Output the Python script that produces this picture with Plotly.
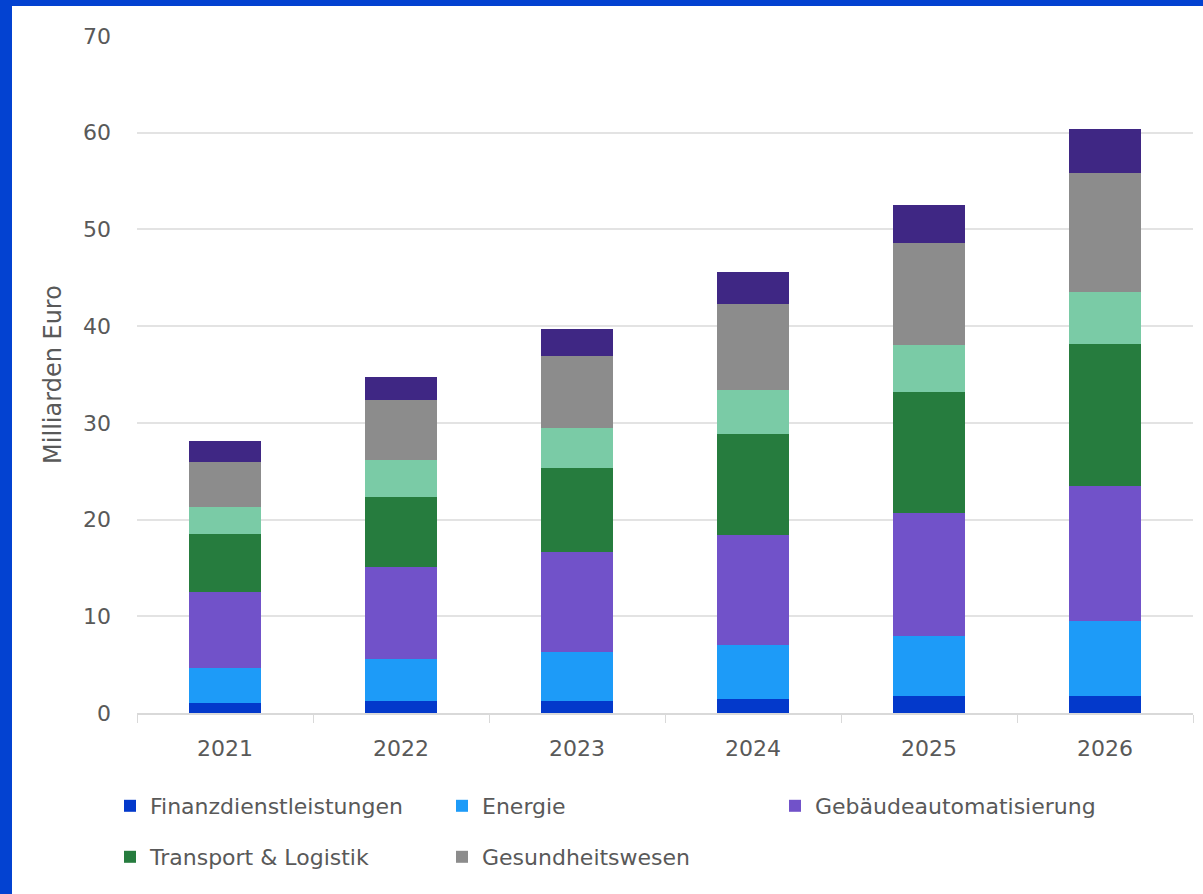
import plotly.graph_objects as go

years = ["2021", "2022", "2023", "2024", "2025", "2026"]

finanz = [1.07, 1.27, 1.24, 1.46, 1.71, 1.72]
energie = [3.55, 4.28, 5.04, 5.62, 6.23, 7.75]
gebaeude = [7.92, 9.52, 10.34, 11.35, 12.77, 14.03]
transport = [5.97, 7.30, 8.74, 10.37, 12.46, 14.65]
sonstige_gruen = [2.76, 3.79, 4.08, 4.55, 4.91, 5.33]
gesundheit = [4.65, 6.20, 7.48, 8.93, 10.50, 12.34]
sonstige_lila = [2.24, 2.38, 2.79, 3.27, 3.98, 4.61]

series = [
    ("Finanzdienstleistungen", finanz, "#0339CB", True, "legend"),
    ("Energie", energie, "#1D9BF8", True, "legend2"),
    ("Gebäudeautomatisierung", gebaeude, "#7152C9", True, "legend3"),
    ("Transport & Logistik", transport, "#267C3E", True, "legend4"),
    ("Smart Home", sonstige_gruen, "#7ACBA6", False, "legend4"),
    ("Gesundheitswesen", gesundheit, "#8C8C8C", True, "legend5"),
    ("Sonstige", sonstige_lila, "#3F2784", False, "legend5"),
]

W, H = 1203, 894
ML, MR, MT, MB = 137, 10, 36, 181
PW, PH = W - ML - MR, H - MT - MB


def px_x(px):
    return (px - ML) / PW


def px_y(py):
    return (H - MB - py) / PH


FONT = "DejaVu Sans"
TXT = "#595959"

fig = go.Figure()
for name, vals, color, show, leg in series:
    fig.add_trace(go.Bar(
        x=years, y=vals, name=name,
        marker=dict(color=color, line=dict(width=0)),
        showlegend=show, legend=leg,
    ))

legend_common = dict(
    orientation="h",
    xanchor="left", yanchor="middle",
    font=dict(family=FONT, size=22, color=TXT),
    bgcolor="rgba(0,0,0,0)",
    traceorder="normal",
    itemclick=False, itemdoubleclick=False,
)

fig.update_layout(
    width=W, height=H,
    margin=dict(l=ML, r=MR, t=MT, b=MB, autoexpand=False),
    paper_bgcolor="white", plot_bgcolor="white",
    barmode="stack", bargap=0.59,
    font=dict(family=FONT, color=TXT),
    legend=dict(legend_common, x=px_x(110), y=px_y(806)),
    legend2=dict(legend_common, x=px_x(442), y=px_y(806)),
    legend3=dict(legend_common, x=px_x(775), y=px_y(806)),
    legend4=dict(legend_common, x=px_x(110), y=px_y(857)),
    legend5=dict(legend_common, x=px_x(442), y=px_y(857)),
    xaxis=dict(
        showgrid=False, showline=True, linecolor="#D9D9D9", linewidth=1.5,
        ticks="outside", tickson="boundaries", ticklen=8, tickcolor="#D9D9D9",
        tickfont=dict(family=FONT, size=22, color=TXT),
        ticklabelstandoff=15,
    ),
    yaxis=dict(
        range=[0, 70], dtick=10, showgrid=True, gridcolor="#E3E3E3", gridwidth=1.5,
        zeroline=False, showline=False, ticks="",
        tickfont=dict(family=FONT, size=22, color=TXT),
        ticklabelstandoff=25,
        title=dict(text="Milliarden Euro", font=dict(family=FONT, size=24, color=TXT), standoff=14),
    ),
    shapes=[
        dict(type="rect", xref="paper", yref="paper", layer="above",
             x0=px_x(0), x1=px_x(12), y0=px_y(H), y1=px_y(0),
             fillcolor="#0342D1", line=dict(width=0)),
        dict(type="rect", xref="paper", yref="paper", layer="above",
             x0=px_x(0), x1=px_x(W), y0=px_y(6), y1=px_y(0),
             fillcolor="#0342D1", line=dict(width=0)),
    ],
)

fig.write_html(
    "out.html",
    config={"displayModeBar": False},
    post_script="document.body.style.margin='0';document.body.style.overflow='hidden';",
)
